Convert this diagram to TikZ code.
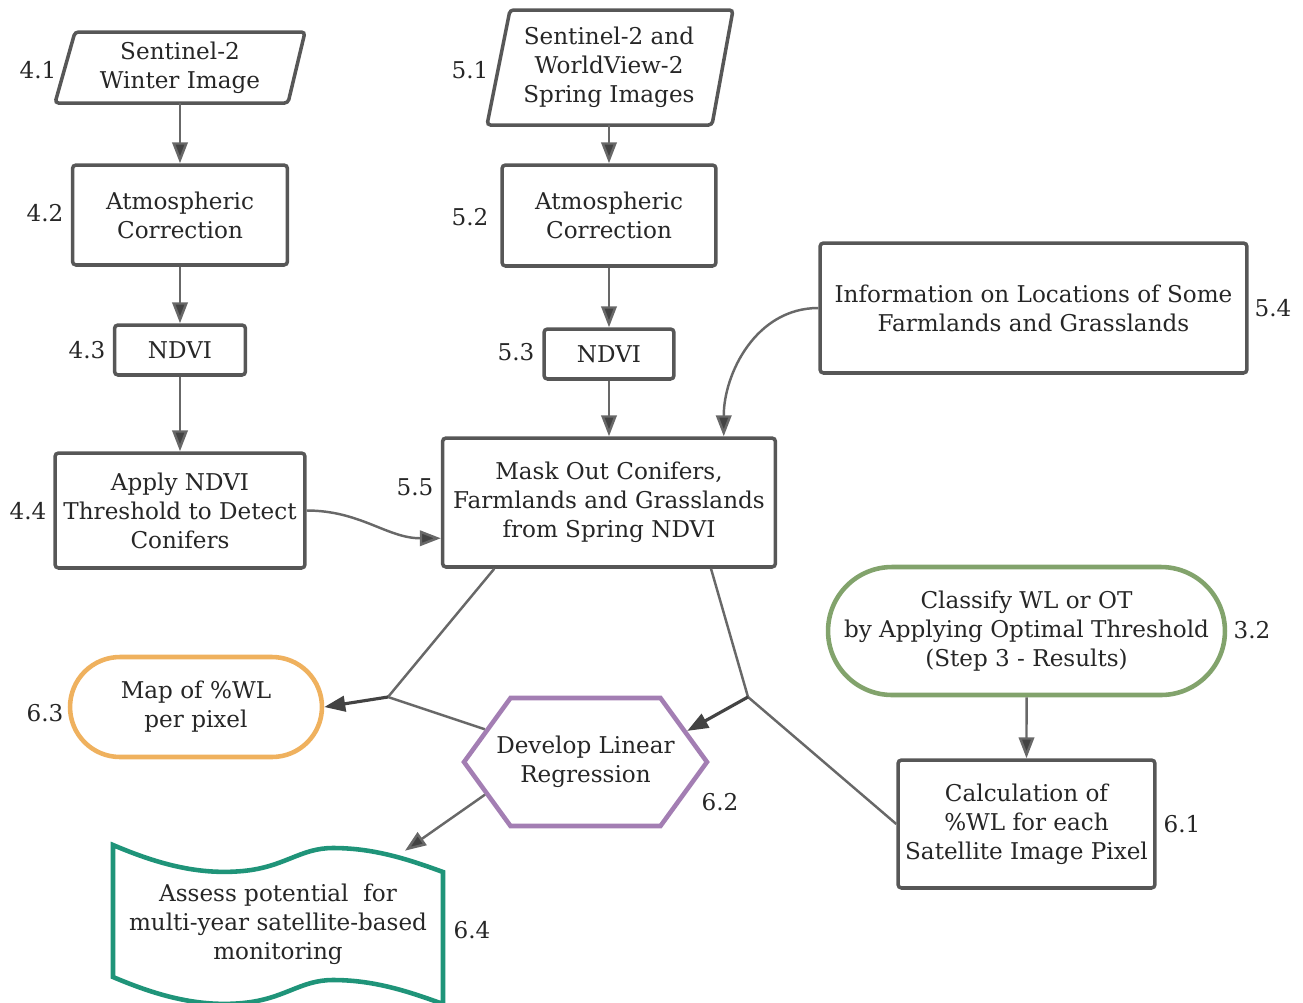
\documentclass[tikz,border=0pt]{standalone}
\usepackage{fontspec}
\setmainfont{DejaVu Serif}
\usetikzlibrary{arrows.meta, shapes.misc, shapes.symbols}

\definecolor{boxgray}{HTML}{575757}
\definecolor{linegray}{HTML}{686868}
\definecolor{tipgray}{HTML}{434343}
\definecolor{textgray}{HTML}{262626}
\definecolor{wlorange}{HTML}{EFB15E}
\definecolor{wlgreen}{HTML}{82A36C}
\definecolor{wlpurple}{HTML}{A37EB3}
\definecolor{wlteal}{HTML}{1F9479}

\tikzset{
  txtbase/.style={align=center, text=textgray, font=\fontsize{13.15}{16.5}\selectfont, inner sep=0pt},
  outline/.style={draw=boxgray, line width=2pt, rounded corners=2pt},
  box/.style={txtbase, outline},
  colbox/.style={txtbase, line width=2.6pt},
  stepno/.style={txtbase},
  conn/.style={draw=linegray, line width=1.4pt},
  arr/.style={conn, -{Triangle[length=4.2mm, width=3.1mm, fill=tipgray]}},
  arrdark/.style={arr, draw=tipgray, line width=1.8pt},
}

\begin{document}
\begin{tikzpicture}[x=0.02cm, y=-0.02cm]
\useasboundingbox (0,0) rectangle (1303,1002);

%% left column: winter image
\draw[outline] (75,32) -- (305,32) -- (288,103) -- (55,103) -- cycle;
\node[txtbase, minimum width=4cm, minimum height=1.42cm] (s41) at (180,67.5) {Sentinel-2\\Winter Image};
\node[box, minimum width=4.3cm, minimum height=2cm] (s42) at (180,215) {Atmospheric\\Correction};
\node[box, minimum width=2.62cm, minimum height=1cm] (s43) at (180,350) {NDVI};
\node[box, minimum width=5cm, minimum height=2.3cm] (s44) at (180,510.5) {Apply NDVI\\Threshold to Detect\\Conifers};

%% middle column: spring images
\draw[outline] (510,10) -- (733,10) -- (712,125) -- (487,125) -- cycle;
\node[txtbase, minimum width=4cm, minimum height=2.3cm] (s51) at (609,67.5) {Sentinel-2 and\\WorldView-2\\Spring Images};
\node[box, minimum width=4.28cm, minimum height=2.02cm] (s52) at (609,215.5) {Atmospheric\\Correction};
\node[box, minimum width=2.6cm, minimum height=1cm] (s53) at (609,354) {NDVI};
\node[box, minimum width=6.66cm, minimum height=2.58cm] (s55) at (609,502.5) {Mask Out Conifers,\\Farmlands and Grasslands\\from Spring NDVI};
\node[box, minimum width=8.54cm, minimum height=2.6cm] (s54) at (1033.5,308) {Information on Locations of Some\\Farmlands and Grasslands};

%% results
\node[colbox, rounded rectangle, draw=wlgreen, minimum width=7.94cm, minimum height=2.56cm] (s32) at (1026.5,631) {Classify WL or OT\\by Applying Optimal Threshold\\(Step 3 - Results)};
\node[box, minimum width=5.14cm, minimum height=2.56cm] (s61) at (1026.5,824) {Calculation of\\\%WL for each\\Satellite Image Pixel};
% text is wider than the flat top edge, so the boxes overhang
\node[colbox, signal, signal to=west and east, signal pointer angle=108, draw=wlpurple, minimum height=2.56cm] (s62) at (585.5,762)
  {\makebox[3cm]{Develop Linear}\\\makebox[3cm]{Regression}};
\node[colbox, rounded rectangle, draw=wlorange, minimum width=5.04cm, minimum height=2cm] (s63) at (196,707) {Map of \%WL\\per pixel};
\draw[draw=wlteal, line width=2.6pt] (113,845) .. controls (160,865) and (200,875) .. (243,871)
  .. controls (285,867) and (300,848) .. (333,848) .. controls (375,848) and (410,860) .. (443,872)
  -- (443,1004) .. controls (410,992) and (375,980) .. (333,980)
  .. controls (300,980) and (285,999) .. (243,1003) .. controls (200,1007) and (160,997) .. (113,977) -- cycle;
\node[txtbase, minimum width=6.6cm, minimum height=2.92cm] (s64) at (278,924) {Assess potential\ \ for\\multi-year satellite-based\\monitoring};

%% step numbers
\node[stepno] (l41) at (38,70) {4.1};
\node[stepno] (l42) at (45,213) {4.2};
\node[stepno] (l43) at (87,350) {4.3};
\node[stepno] (l44) at (28,511) {4.4};
\node[stepno] (l51) at (470,70) {5.1};
\node[stepno] (l52) at (470,217) {5.2};
\node[stepno] (l53) at (516,352) {5.3};
\node[stepno] (l55) at (415,487) {5.5};
\node[stepno] (l54) at (1273,308) {5.4};
\node[stepno] (l32) at (1252,630) {3.2};
\node[stepno] (l61) at (1182,824) {6.1};
\node[stepno] (l62) at (720,802) {6.2};
\node[stepno] (l63) at (45,713) {6.3};
\node[stepno] (l64) at (472,930) {6.4};

%% connectors
\draw[arr] (s41) -- (s42);
\draw[arr] (s42) -- (s43);
\draw[arr] (s43) -- (s44);
\draw[arr] (s51) -- (s52);
\draw[arr] (s52) -- (s53);
\draw[arr] (s53) -- (s55);
\draw[arr] (s44.east) to[out=0, in=180] (s55.192);
\draw[arr] (s54.west) to[out=180, in=90] (s55.30);
\draw[arr] (s32) -- (s61);

\coordinate (j1) at (388,697);
\coordinate (j2) at (748,697);
\draw[conn] (s55.-150) -- (j1);
\draw[conn] (s62.162) -- (j1);
\draw[arrdark] (j1) -- (s63.east);
\draw[conn] (s55.-33) -- (j2);
\draw[conn] (s61.west) -- (j2);
\draw[arrdark] (j2) -- (s62.17);
\draw[arr] (s62.198) -- (s64.30);

\end{tikzpicture}
\end{document}
